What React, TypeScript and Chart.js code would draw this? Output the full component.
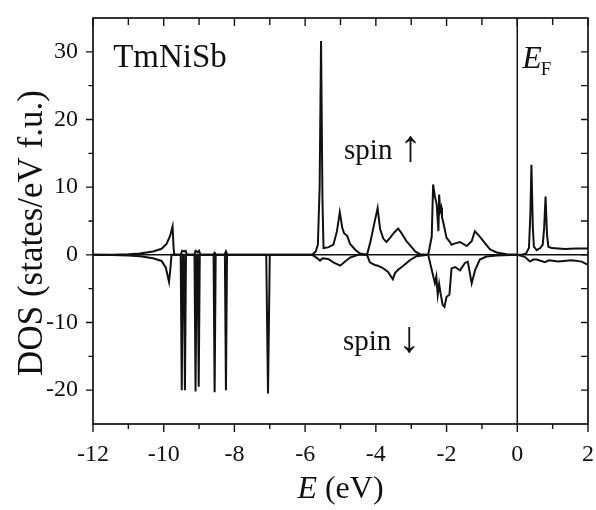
import { useEffect, useRef } from "react";
import { Chart, registerables } from "chart.js";

Chart.register(...registerables);

const X_MIN = -12;
const X_MAX = 2;
const Y_MIN = -25;
const Y_MAX = 35;
const xTickValues = [-12, -10, -8, -6, -4, -2, 0, 2];
const xMinorValues = [-11, -9, -7, -5, -3, -1, 1];
const yTickValues = [-20, -10, 0, 10, 20, 30];
const yMinorValues = [-25, -15, -5, 5, 15, 25, 35];

const spinUpE = [
  -12, -11.45, -11.0, -10.67, -10.3, -10.06, -9.92, -9.82, -9.75, -9.72, -9.7,
  -9.52, -9.48, -9.42, -9.38, -9.34, -9.13, -9.1, -9.04, -9.0, -8.96,
  -8.6, -8.56, -8.52, -8.28, -8.24, -8.2,
  -5.8, -5.7, -5.64, -5.59, -5.55, -5.51, -5.48, -5.35, -5.2, -5.1, -5.02,
  -4.95, -4.9, -4.81, -4.73, -4.59, -4.45, -4.25, -4.15, -4.05, -3.95, -3.88,
  -3.79, -3.7, -3.6, -3.48, -3.37, -3.3, -3.13, -3.0, -2.89, -2.75, -2.52,
  -2.42, -2.38, -2.33, -2.28, -2.23, -2.21, -2.18, -2.15, -2.13, -2.09, -2.0,
  -1.92, -1.86, -1.76, -1.62, -1.43, -1.29, -1.2, -1.06, -0.91, -0.77, -0.58,
  -0.3, 0, 0.15, 0.25, 0.33, 0.37, 0.4, 0.44, 0.47, 0.55, 0.65, 0.72, 0.76,
  0.8, 0.84, 0.88, 0.97, 1.35, 1.65, 2.0,
];
const spinUpDOS = [
  0, 0.02, 0.1, 0.2, 0.5, 0.9, 1.6, 2.8, 4.2, 1.0, 0,
  0, 0.6, 0.5, 0.6, 0, 0, 0.6, 0.4, 0.6, 0,
  0, 0.3, 0, 0, 0.5, 0,
  0, 0.5, 1.5, 10, 31.6, 8, 1.0, 1.1, 1.5, 3.5, 6.3,
  4.0, 3.2, 2.8, 1.6, 0.8, 0.2, 0, 2.0, 4.5, 6.9, 3.8,
  2.4, 1.9, 2.5, 3.3, 3.9, 3.4, 2.0, 1.2, 0.5, 0.1, 0,
  2.7, 10.4, 8.6, 7.5, 3.5, 8.9, 6.5, 7.0, 5.6, 4.7, 2.5,
  2.0, 1.5, 1.7, 1.9, 1.3, 2.0, 3.5, 2.7, 1.7, 0.8, 0.35,
  0.1, 0, 0.05, 0.2, 1.0, 6, 13.3, 4, 1.2, 0.7, 1.0, 1.5, 4,
  8.6, 3, 1.2, 1.0, 0.85, 0.95, 0.95,
];

const spinDownE = [
  -12, -11.45, -11.0, -10.67, -10.3, -10.06, -9.94, -9.85, -9.81, -9.78,
  -9.52, -9.49, -9.46, -9.43, -9.4, -9.37,
  -9.13, -9.1, -9.07, -9.04, -9.01, -8.98,
  -8.59, -8.56, -8.53, -8.27, -8.24, -8.21, -7.1, -7.05, -7.0,
  -5.8, -5.68, -5.58, -5.5, -5.35, -5.2, -5.01, -4.87, -4.73, -4.5, -4.25,
  -4.17, -4.03, -3.94, -3.79, -3.66, -3.52, -3.46, -3.37, -3.24, -3.04, -2.85,
  -2.52, -2.42, -2.33, -2.29, -2.25, -2.21, -2.17, -2.11, -2.06, -2.0, -1.92,
  -1.86, -1.76, -1.62, -1.48, -1.4, -1.29, -1.19, -1.06, -0.87, -0.58, 0,
  0.21, 0.36, 0.45, 0.55, 0.78, 0.9, 1.16, 1.54, 1.82, 2.0,
];
const spinDownDOS = [
  0, -0.02, -0.1, -0.2, -0.5, -0.9, -1.9, -4.0, -2.0, 0,
  0, -20, 0, 0, -20, 0,
  0, -20.2, 0, 0, -19.5, 0,
  0, -20.3, 0, 0, -20, 0, 0, -20.5, 0,
  0, -0.4, -0.85, -0.5, -0.6, -1.1, -1.6, -1.0, -0.4, 0, 0,
  -1.1, -1.5, -1.6, -2.0, -2.5, -3.6, -2.7, -2.2, -1.7, -0.8, -0.2,
  0, -2.2, -4.2, -3.2, -5.9, -4.3, -5.7, -7.4, -7.7, -6.2, -5.9,
  -2.0, -1.8, -2.3, -1.2, -1.0, -4.2, -2.2, -0.7, -0.25, -0.1, 0,
  -0.3, -1.0, -0.7, -0.7, -1.1, -0.8, -1.0, -0.8, -1.0, -1.5,
];

const SERIF = '"Liberation Serif", "Times New Roman", "DejaVu Serif", serif';
const INK = "#111";

const toPoints = (xs: number[], ys: number[]) => xs.map((x, i) => ({ x, y: ys[i] }));

const drawSpin = (ctx: any, x: number, y: number, arrow: string) => {
  ctx.font = `29px ${SERIF}`;
  ctx.fillText("spin", x, y);
  const w = ctx.measureText("spin").width;
  ctx.font = `44px ${SERIF}`;
  ctx.fillText(arrow, x + w + 7, y + 2);
};

const framePlugin = {
  id: "frameAndText",
  beforeDatasetsDraw(chart: any) {
    const { ctx, chartArea: a, scales } = chart;
    const x = scales.x;
    const y = scales.y;
    ctx.save();
    ctx.strokeStyle = INK;
    ctx.lineWidth = 1.5;
    ctx.beginPath();
    const y0 = y.getPixelForValue(0);
    ctx.moveTo(a.left, y0);
    ctx.lineTo(a.right, y0);
    const x0 = x.getPixelForValue(0);
    ctx.moveTo(x0, a.top);
    ctx.lineTo(x0, a.bottom);
    ctx.stroke();
    ctx.restore();
  },
  afterDraw(chart: any) {
    const { ctx, chartArea: a, scales } = chart;
    const x = scales.x;
    const y = scales.y;
    ctx.save();
    ctx.strokeStyle = INK;
    ctx.lineWidth = 1.7;
    ctx.strokeRect(a.left, a.top, a.right - a.left, a.bottom - a.top);
    ctx.lineWidth = 1.4;
    ctx.beginPath();
    const xt = (vals: number[], len: number, lenTop: number) => {
      vals.forEach((v) => {
        const px = x.getPixelForValue(v);
        ctx.moveTo(px, a.bottom);
        ctx.lineTo(px, a.bottom + len);
        ctx.moveTo(px, a.top);
        ctx.lineTo(px, a.top + lenTop);
      });
    };
    xt(xTickValues, 8, 8);
    xt(xMinorValues, 5, 7);
    const yt = (vals: number[], len: number, lenRight: number) => {
      vals.forEach((v) => {
        const py = y.getPixelForValue(v);
        ctx.moveTo(a.left, py);
        ctx.lineTo(a.left - len, py);
        ctx.moveTo(a.right, py);
        ctx.lineTo(a.right - lenRight, py);
      });
    };
    yt(yTickValues, 7, 7);
    yt(yMinorValues.filter((v) => v > Y_MIN && v < Y_MAX), 4.5, 7);
    ctx.stroke();

    ctx.fillStyle = INK;
    ctx.textBaseline = "alphabetic";
    ctx.textAlign = "left";
    ctx.font = `33px ${SERIF}`;
    ctx.fillText("TmNiSb", x.getPixelForValue(-11.43), y.getPixelForValue(27.7));
    drawSpin(ctx, x.getPixelForValue(-4.9), y.getPixelForValue(14.1), "\u2191");
    drawSpin(ctx, x.getPixelForValue(-4.93), y.getPixelForValue(-14.1), "\u2193");
    ctx.font = `italic 32px ${SERIF}`;
    const ex = x.getPixelForValue(0.14);
    const ey = y.getPixelForValue(27.6);
    ctx.fillText("E", ex, ey);
    const ew = ctx.measureText("E").width;
    ctx.font = `19px ${SERIF}`;
    ctx.fillText("F", ex + ew - 1, ey + 7);

    // axis titles
    ctx.save();
    ctx.translate(33, (a.top + a.bottom) / 2 + 12);
    ctx.rotate(-Math.PI / 2);
    ctx.textAlign = "center";
    ctx.textBaseline = "middle";
    ctx.font = `35px ${SERIF}`;
    ctx.fillText("DOS (states/eV f.u.)", 0, 0);
    ctx.restore();

    ctx.font = `italic 32px ${SERIF}`;
    const e1 = ctx.measureText("E").width;
    ctx.font = `32px ${SERIF}`;
    const rest = " (eV)";
    const e2 = ctx.measureText(rest).width;
    const total = e1 + e2;
    const cx = (a.left + a.right) / 2;
    const startX = cx - total / 2;
    ctx.textAlign = "left";
    ctx.textBaseline = "alphabetic";
    ctx.font = `italic 32px ${SERIF}`;
    ctx.fillText("E", startX, 498);
    ctx.font = `32px ${SERIF}`;
    ctx.fillText(rest, startX + e1, 498);
    ctx.restore();
  },
};

export default function App() {
  const ref = useRef<HTMLCanvasElement | null>(null);
  useEffect(() => {
    if (!ref.current) return;
    const chart = new Chart(ref.current, {
      type: "scatter",
      data: {
        datasets: [
          {
            label: "spin up",
            data: toPoints(spinUpE, spinUpDOS),
            showLine: true,
            borderColor: INK,
            borderWidth: 2,
            pointRadius: 0,
            tension: 0,
            fill: false,
          },
          {
            label: "spin down",
            data: toPoints(spinDownE, spinDownDOS),
            showLine: true,
            borderColor: INK,
            borderWidth: 2,
            pointRadius: 0,
            tension: 0,
            fill: false,
          },
        ],
      },
      options: {
        responsive: false,
        animation: false,
        devicePixelRatio: 1,
        layout: { padding: { top: 18, right: 8, bottom: 0, left: 0 } },
        plugins: { legend: { display: false }, tooltip: { enabled: false }, title: { display: false } },
        scales: {
          x: {
            type: "linear",
            min: X_MIN,
            max: X_MAX,
            grid: { display: false, drawTicks: false },
            border: { display: false },
            afterBuildTicks: (s: any) => {
              s.ticks = xTickValues.map((v) => ({ value: v }));
            },
            afterFit: (s: any) => {
              s.height = 86;
              s.paddingLeft = 0;
              s.paddingRight = 0;
              s.paddingTop = 0;
              s.paddingBottom = 0;
            },
            ticks: {
              color: INK,
              font: { family: SERIF, size: 24 },
              padding: 16,
              maxRotation: 0,
              autoSkip: false,
            },
          },
          y: {
            type: "linear",
            min: Y_MIN,
            max: Y_MAX,
            grid: { display: false, drawTicks: false },
            border: { display: false },
            afterBuildTicks: (s: any) => {
              s.ticks = yTickValues.map((v) => ({ value: v }));
            },
            afterFit: (s: any) => {
              s.width = 93;
              s.paddingLeft = 0;
              s.paddingRight = 0;
              s.paddingTop = 0;
              s.paddingBottom = 0;
            },
            ticks: {
              color: INK,
              font: { family: SERIF, size: 24 },
              padding: 15,
              autoSkip: false,
            },
          },
        },
      },
      plugins: [framePlugin],
    });
    return () => chart.destroy();
  }, []);
  return (
    <div style={{ position: "fixed", left: 0, top: 0, width: 596, height: 510, background: "#fff" }}>
      <canvas ref={ref} width={596} height={510} style={{ width: 596, height: 510, display: "block" }} />
    </div>
  );
}
